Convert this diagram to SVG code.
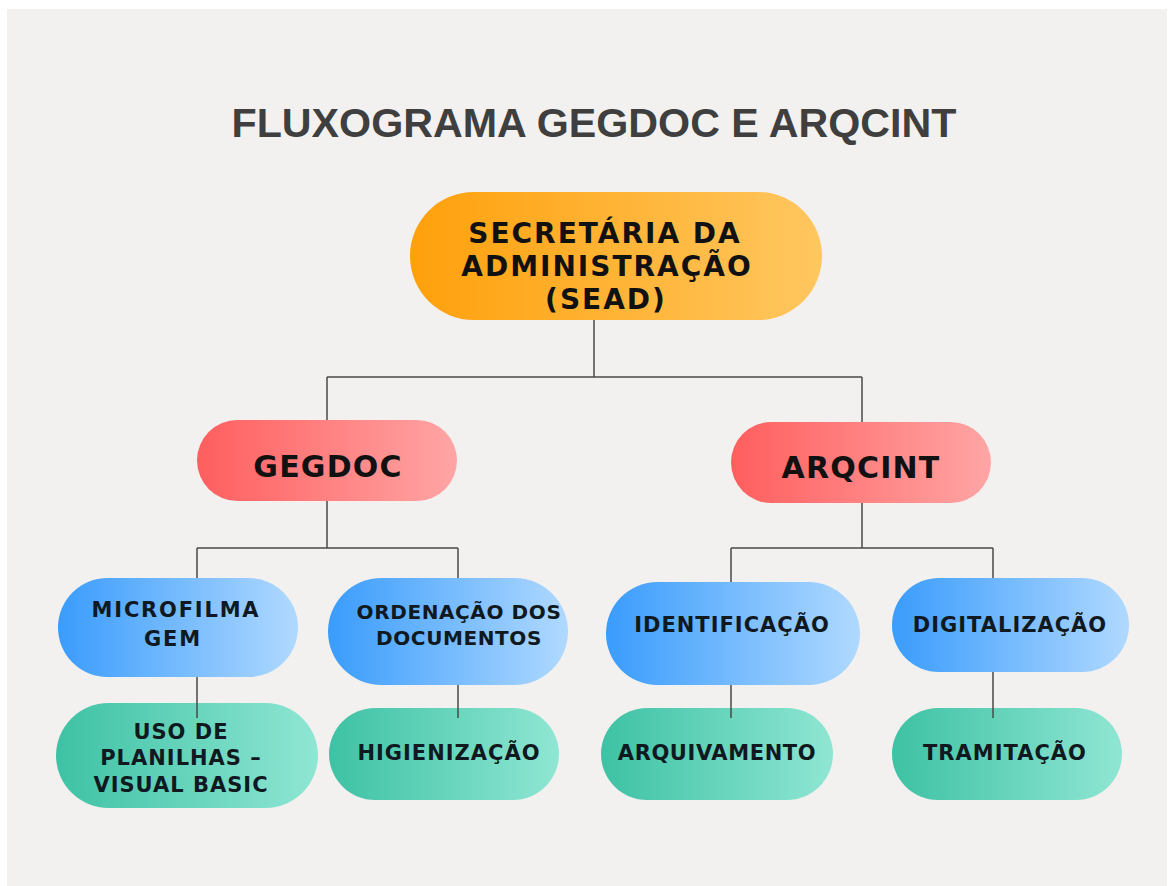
<svg xmlns="http://www.w3.org/2000/svg" width="1169" height="886" viewBox="0 0 1169 886">
<defs>
<linearGradient id="gOrange" x1="0" y1="0" x2="1" y2="0">
<stop offset="0" stop-color="#FFA00B"/><stop offset="1" stop-color="#FFC760"/>
</linearGradient>
<linearGradient id="gRed" x1="0" y1="0" x2="1" y2="0">
<stop offset="0" stop-color="#FF5E5E"/><stop offset="1" stop-color="#FFA5A5"/>
</linearGradient>
<linearGradient id="gBlue" x1="0" y1="0" x2="1" y2="0">
<stop offset="0" stop-color="#3A9CFC"/><stop offset="1" stop-color="#B0D9FF"/>
</linearGradient>
<linearGradient id="gGreen" x1="0" y1="0" x2="1" y2="0">
<stop offset="0" stop-color="#3EC2A4"/><stop offset="1" stop-color="#8FE6D3"/>
</linearGradient>
</defs>
<style>
.title{font-family:"Liberation Sans",Arial,sans-serif;font-weight:bold;font-size:41px;fill:#3f3f3f;text-anchor:middle}
.big{font-family:"DejaVu Sans",Verdana,sans-serif;font-weight:bold;font-size:28px;fill:#111111;text-anchor:middle;letter-spacing:2px}
.mid{font-family:"DejaVu Sans",Verdana,sans-serif;font-weight:bold;font-size:30px;fill:#111111;text-anchor:middle;letter-spacing:1.2px}
.sm{font-family:"DejaVu Sans",Verdana,sans-serif;font-weight:bold;font-size:21px;fill:#101820;text-anchor:middle;letter-spacing:1px}
.sm2{font-family:"DejaVu Sans",Verdana,sans-serif;font-weight:bold;font-size:20px;fill:#101820;text-anchor:middle;letter-spacing:0.6px}
.ln{stroke:#4a4a4a;stroke-width:1.5;fill:none}
</style>
<rect x="0" y="0" width="1169" height="886" fill="#ffffff"/>
<rect x="7" y="9" width="1160" height="877" fill="#F2F1EF"/>
<text class="title" x="594" y="137" textLength="725" lengthAdjust="spacingAndGlyphs">FLUXOGRAMA GEGDOC E ARQCINT</text>

<g id="sead">
<rect x="410" y="192" width="412" height="128" rx="64" fill="url(#gOrange)"/>
<text class="big" x="605" y="243">SECRETÁRIA DA</text>
<text class="big" x="607" y="276">ADMINISTRAÇÃO</text>
<text class="big" x="606" y="309">(SEAD)</text>
</g>
<g id="gegdoc">
<rect x="197" y="420" width="260" height="81" rx="40.5" fill="url(#gRed)"/>
<text class="mid" x="328" y="477">GEGDOC</text>
</g>
<g id="arqcint">
<rect x="731" y="422" width="260" height="81" rx="40.5" fill="url(#gRed)"/>
<text class="mid" x="861" y="478">ARQCINT</text>
</g>
<g id="microfilma">
<rect x="58" y="578" width="240" height="99" rx="49.5" fill="url(#gBlue)"/>
<text class="sm" x="176" y="617" style="letter-spacing:1.8px">MICROFILMA</text>
<text class="sm" x="173" y="646" style="letter-spacing:1.8px">GEM</text>
</g>
<g id="ordenacao">
<rect x="328" y="578" width="240" height="107" rx="53.5" fill="url(#gBlue)"/>
<text class="sm2" x="459" y="619">ORDENAÇÃO DOS</text>
<text class="sm2" x="459" y="645">DOCUMENTOS</text>
</g>
<g id="identificacao">
<rect x="606" y="582" width="254" height="103" rx="51.5" fill="url(#gBlue)"/>
<text class="sm" x="732" y="632">IDENTIFICAÇÃO</text>
</g>
<g id="digitalizacao">
<rect x="892" y="578" width="237" height="94" rx="47" fill="url(#gBlue)"/>
<text class="sm" x="1010" y="632">DIGITALIZAÇÃO</text>
</g>
<g id="uso">
<rect x="56" y="703" width="262" height="105" rx="52.5" fill="url(#gGreen)"/>
<text class="sm" x="181" y="739">USO DE</text>
<text class="sm" x="181" y="765">PLANILHAS –</text>
<text class="sm" x="181" y="792">VISUAL BASIC</text>
</g>
<g id="higienizacao">
<rect x="329" y="708" width="230" height="92" rx="46" fill="url(#gGreen)"/>
<text class="sm" x="449" y="760">HIGIENIZAÇÃO</text>
</g>
<g id="arquivamento">
<rect x="601" y="708" width="232" height="92" rx="46" fill="url(#gGreen)"/>
<text class="sm" x="717" y="760" style="letter-spacing:0.6px">ARQUIVAMENTO</text>
</g>
<g id="tramitacao">
<rect x="892" y="708" width="230" height="92" rx="46" fill="url(#gGreen)"/>
<text class="sm" x="1005" y="760">TRAMITAÇÃO</text>
</g>

<g id="connectors" class="ln">
<path d="M594 320 V377 M327 377 H862 M327 377 V420 M862 377 V422"/>
<path d="M327 501 V548 M197 548 H458 M197 548 V578 M458 548 V578"/>
<path d="M862 503 V548 M731 548 H993 M731 548 V582 M993 548 V578"/>
<path d="M197 677 V718 M458 685 V718 M731 685 V718 M993 672 V718"/>
</g>
</svg>
